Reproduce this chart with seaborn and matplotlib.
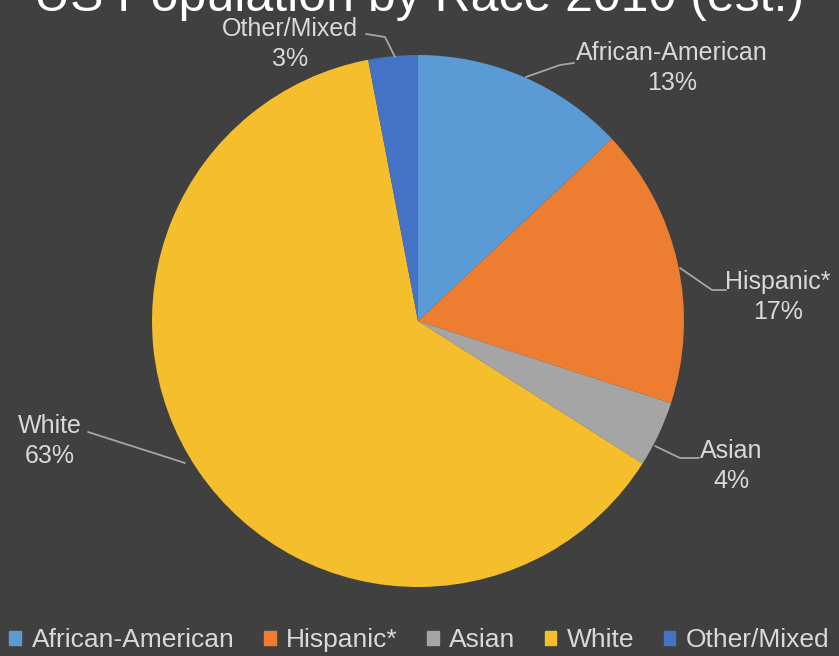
import matplotlib
matplotlib.use("Agg")
import matplotlib.pyplot as plt
import matplotlib.patches as mpatches
import seaborn as sns

# US population share by race, 2010 estimate
categories = ["African-American", "Hispanic*", "Asian", "White", "Other/Mixed"]
shares = [13, 17, 4, 63, 3]
colors = ["#5b9bd5", "#ed7d31", "#a5a5a5", "#f4be2c", "#4472c4"]

sns.set_theme(style="dark")
plt.rcParams["font.family"] = ["Liberation Sans", "DejaVu Sans"]

bg = "#404040"
txt = "#d9d9d9"

W, H = 839, 656
fig = plt.figure(figsize=(W / 100, H / 100), dpi=100, facecolor=bg)

# pie axes: centre (418, 321) px, radius 266 px
cx, cy, r = 418, 321, 266
ax = fig.add_axes([(cx - r) / W, (H - cy - r) / H, 2 * r / W, 2 * r / H])
ax.set_facecolor("none")
palette = sns.color_palette(colors)
wedges, _ = ax.pie(shares, colors=palette, startangle=90, counterclock=False,
                   radius=1.0, wedgeprops=dict(linewidth=0))
ax.set_xlim(-1, 1)
ax.set_ylim(-1, 1)
ax.set_aspect("equal")
ax.axis("off")


def px(x, y):
    """pixel position -> pie data units"""
    return ((x - cx) / r, (cy - y) / r)


# data labels: (text centre, leader line points) in pixels
label_layout = {
    "Other/Mixed": ((290, 44), [(366, 34), (385, 37), (395, 57)]),
    "African-American": ((672, 68), [(526, 77), (560, 65), (574, 63)]),
    "Hispanic*": ((778, 297), [(680, 268), (712, 290), (726, 290)]),
    "Asian": ((731, 466), [(655, 446), (680, 458), (699, 458)]),
    "White": ((50, 441), [(88, 432), (185, 463)]),
}

for name, val in zip(categories, shares):
    (tx, ty), line = label_layout[name]
    x, y = px(tx, ty)
    ax.text(x, y, f"{name}\n{val}%", ha="center", va="center", color=txt,
            fontsize=18, linespacing=1.3, clip_on=False)
    pts = [px(a, b) for a, b in line]
    ax.plot([p[0] for p in pts], [p[1] for p in pts], color="#a6a6a6",
            linewidth=1.3, clip_on=False)

# title, partly above the top edge
fig.text(0.5, 1 - 11 / H, "US Population by Race 2010 (est.)", ha="center",
         va="baseline", color="white", fontsize=36)

handles = [mpatches.Patch(color=c, label=n) for n, c in zip(categories, palette)]
leg = fig.legend(handles=handles, loc="center", bbox_to_anchor=(0.5, 1 - 640 / H),
                 ncol=5, frameon=False, fontsize=19, handlelength=0.45,
                 handleheight=0.45, handletextpad=0.4, columnspacing=1.1)
for t in leg.get_texts():
    t.set_color(txt)

fig.savefig("out.png", dpi=100, facecolor=bg)
